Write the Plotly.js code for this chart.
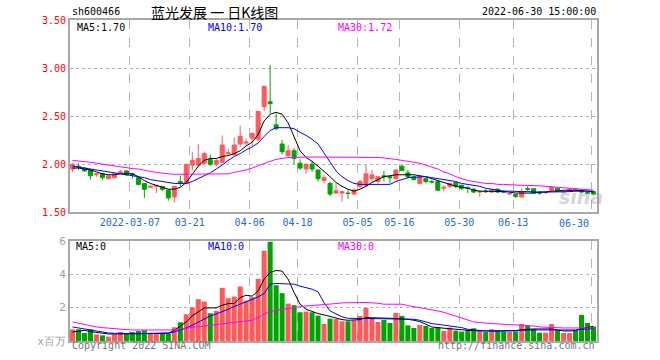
<!DOCTYPE html>
<html><head><meta charset="utf-8">
<script src="https://cdn.plot.ly/plotly-3.0.1.min.js"></script>
<style>html,body{margin:0;padding:0;background:#fff;}#chart{width:660px;height:360px;}</style>
</head><body><div id="chart"></div>
<script>
// trading-day index of each labelled date and its label
const tickIndex = [10, 20, 30, 38, 48, 55, 65, 74, 87];
const tickLabels = ['2022-03-07','03-21','04-06','04-18','05-05','05-16','05-30','06-13','06-30'];

const openP = [1.95,1.98,1.96,1.94,1.89,1.90,1.85,1.86,1.91,1.93,
  1.90,1.86,1.80,1.76,1.77,1.77,1.73,1.66,1.82,1.80,
  1.99,1.99,2.01,2.05,2.00,2.02,2.11,2.10,2.21,2.22,
  2.27,2.26,2.60,2.65,2.41,2.21,2.09,2.14,2.01,1.95,
  2.00,1.94,1.83,1.80,1.70,1.70,1.70,1.69,1.77,1.78,
  1.85,1.82,1.88,1.87,1.85,1.98,1.91,1.87,1.80,1.85,
  1.82,1.82,1.75,1.77,1.81,1.78,1.755,1.74,1.71,1.72,
  1.71,1.74,1.715,1.69,1.685,1.66,1.745,1.745,1.705,1.705,
  1.73,1.75,1.71,1.72,1.74,1.73,1.705,1.715];
const highP = [2.01,2.01,1.97,1.95,1.91,1.90,1.88,1.91,1.94,1.94,
  1.91,1.87,1.80,1.78,1.78,1.77,1.74,1.77,1.88,2.00,
  2.13,2.21,2.13,2.10,2.06,2.30,2.16,2.28,2.40,2.27,
  2.33,2.55,2.81,3.03,2.53,2.25,2.20,2.17,2.05,2.00,
  2.03,1.94,1.89,1.82,1.80,1.72,1.73,1.75,1.84,1.99,
  1.94,1.88,1.93,1.88,1.94,1.99,1.94,1.88,1.88,1.86,
  1.84,1.83,1.78,1.81,1.81,1.79,1.77,1.75,1.73,1.74,
  1.74,1.75,1.73,1.71,1.69,1.75,1.77,1.75,1.72,1.72,
  1.77,1.76,1.73,1.75,1.75,1.74,1.72,1.72];
const lowP = [1.92,1.94,1.92,1.84,1.87,1.84,1.84,1.85,1.90,1.88,
  1.85,1.78,1.65,1.75,1.70,1.72,1.62,1.60,1.77,1.79,
  1.93,1.98,2.00,1.98,1.98,2.01,2.09,2.08,2.18,2.19,
  2.19,2.24,2.55,2.53,2.35,2.10,2.08,2.00,1.94,1.90,
  1.92,1.82,1.80,1.67,1.69,1.61,1.64,1.68,1.75,1.77,
  1.82,1.80,1.82,1.80,1.84,1.93,1.85,1.83,1.79,1.80,
  1.80,1.72,1.72,1.75,1.75,1.73,1.70,1.70,1.66,1.70,
  1.70,1.70,1.70,1.68,1.65,1.65,1.72,1.69,1.68,1.69,
  1.72,1.71,1.70,1.71,1.71,1.70,1.69,1.68];
const closeP = [2.00,1.97,1.93,1.88,1.90,1.86,1.88,1.90,1.92,1.89,
  1.89,1.79,1.74,1.77,1.78,1.74,1.65,1.77,1.81,2.00,
  2.04,2.06,2.11,2.00,2.04,2.20,2.12,2.20,2.29,2.23,
  2.32,2.55,2.81,2.63,2.37,2.13,2.14,2.06,1.96,2.00,
  1.95,1.85,1.86,1.69,1.725,1.715,1.695,1.73,1.82,1.90,
  1.89,1.87,1.87,1.86,1.94,1.935,1.87,1.84,1.87,1.82,
  1.815,1.73,1.76,1.80,1.77,1.75,1.75,1.71,1.715,1.715,
  1.73,1.71,1.71,1.695,1.665,1.71,1.74,1.70,1.70,1.71,
  1.76,1.72,1.715,1.74,1.72,1.71,1.70,1.69];

const ma5 = [1.96,1.96,1.95,1.94,1.92,1.90,1.89,1.89,1.90,1.90,
  1.90,1.87,1.83,1.80,1.78,1.76,1.74,1.74,1.76,1.81,
  1.90,1.98,2.04,2.06,2.06,2.08,2.09,2.11,2.14,2.19,
  2.23,2.31,2.45,2.52,2.54,2.52,2.43,2.28,2.14,2.07,
  2.03,1.98,1.93,1.87,1.81,1.77,1.74,1.72,1.74,1.77,
  1.81,1.84,1.87,1.88,1.89,1.89,1.89,1.89,1.88,1.87,
  1.85,1.83,1.81,1.79,1.77,1.76,1.75,1.73,1.72,1.72,
  1.72,1.72,1.715,1.71,1.70,1.70,1.70,1.70,1.71,1.71,
  1.72,1.72,1.73,1.73,1.73,1.725,1.72,1.71];
const ma10 = [1.98,1.97,1.96,1.95,1.94,1.93,1.92,1.91,1.90,1.895,
  1.88,1.87,1.86,1.84,1.83,1.82,1.81,1.80,1.80,1.80,
  1.82,1.85,1.88,1.91,1.95,1.99,2.04,2.08,2.11,2.15,
  2.18,2.22,2.29,2.35,2.38,2.38,2.38,2.37,2.33,2.30,
  2.26,2.21,2.12,2.02,1.93,1.87,1.83,1.80,1.79,1.79,
  1.79,1.79,1.79,1.79,1.82,1.84,1.86,1.865,1.87,1.87,
  1.86,1.85,1.84,1.83,1.82,1.80,1.79,1.78,1.77,1.75,
  1.74,1.73,1.72,1.72,1.715,1.715,1.715,1.71,1.71,1.71,
  1.71,1.71,1.71,1.715,1.72,1.72,1.72,1.72];
const ma30 = [2.04,2.035,2.03,2.02,2.01,2.00,1.99,1.98,1.975,1.965,
  1.955,1.95,1.935,1.925,1.915,1.905,1.90,1.895,1.895,1.895,
  1.895,1.895,1.895,1.895,1.895,1.895,1.90,1.915,1.925,1.94,
  1.96,1.985,2.01,2.03,2.05,2.06,2.07,2.07,2.075,2.075,
  2.075,2.075,2.075,2.075,2.075,2.075,2.075,2.075,2.075,2.075,
  2.075,2.07,2.065,2.06,2.05,2.04,2.03,2.02,2.01,1.99,
  1.97,1.95,1.92,1.90,1.87,1.85,1.83,1.82,1.81,1.80,
  1.80,1.79,1.79,1.785,1.785,1.78,1.78,1.78,1.775,1.77,
  1.765,1.76,1.755,1.75,1.745,1.74,1.735,1.73];

const volume = [0.70,0.70,0.48,0.70,0.40,0.34,0.26,0.40,0.54,0.46,
  0.54,0.60,0.64,0.46,0.46,0.46,0.46,0.82,1.12,1.60,
  2.02,2.50,2.36,1.66,1.80,3.18,2.56,2.66,3.26,2.42,
  2.62,3.72,5.40,5.94,3.34,2.86,2.24,2.14,1.72,1.76,
  1.72,1.52,1.02,1.34,1.32,1.18,1.18,1.24,1.50,1.98,
  1.38,1.14,1.26,1.08,1.68,1.50,0.94,0.78,0.96,0.90,
  0.78,0.82,0.60,0.80,0.62,0.56,0.68,0.76,0.60,0.54,
  0.70,0.64,0.58,0.56,0.58,1.02,0.92,0.72,0.50,0.50,
  1.02,0.64,0.48,0.48,0.62,1.56,1.08,0.86];
const vma5 = [0.54,0.60,0.64,0.56,0.50,0.46,0.42,0.42,0.42,0.42,
  0.42,0.42,0.44,0.44,0.44,0.44,0.46,0.64,0.90,1.14,
  1.50,1.76,1.98,1.98,1.98,2.14,2.24,2.24,2.60,2.74,
  2.68,3.00,3.70,4.10,4.22,4.18,3.70,2.90,2.20,1.90,
  1.76,1.64,1.56,1.46,1.40,1.28,1.24,1.24,1.28,1.40,
  1.40,1.40,1.40,1.36,1.34,1.34,1.30,1.24,1.16,1.00,
  0.84,0.80,0.76,0.74,0.70,0.66,0.64,0.62,0.60,0.60,
  0.60,0.60,0.60,0.60,0.62,0.68,0.72,0.72,0.72,0.72,
  0.72,0.66,0.60,0.60,0.62,0.74,0.82,0.88];
const vma10 = [0.84,0.78,0.72,0.66,0.60,0.52,0.48,0.46,0.44,0.44,
  0.44,0.44,0.44,0.44,0.44,0.44,0.48,0.54,0.64,0.78,
  0.94,1.14,1.34,1.50,1.62,1.74,1.90,2.06,2.20,2.34,
  2.48,2.64,2.84,3.40,3.44,3.44,3.44,3.40,3.28,3.20,
  3.10,2.94,2.30,1.80,1.60,1.45,1.36,1.34,1.34,1.34,
  1.34,1.34,1.34,1.34,1.34,1.34,1.34,1.30,1.24,1.14,
  1.04,1.00,0.96,0.90,0.86,0.80,0.70,0.66,0.62,0.60,
  0.60,0.60,0.60,0.60,0.62,0.64,0.64,0.66,0.66,0.66,
  0.66,0.64,0.64,0.64,0.66,0.70,0.72,0.74];
const vma30 = [1.14,1.06,0.98,0.92,0.84,0.80,0.76,0.74,0.70,0.68,
  0.66,0.66,0.66,0.66,0.66,0.66,0.66,0.66,0.72,0.78,
  0.82,0.86,0.90,0.94,0.98,1.00,1.04,1.10,1.14,1.20,
  1.24,1.40,1.60,1.78,1.84,1.90,1.96,2.02,2.06,2.10,
  2.12,2.14,2.18,2.20,2.24,2.28,2.30,2.30,2.30,2.30,
  2.30,2.26,2.20,2.20,2.20,2.20,2.12,2.06,2.00,1.96,
  1.88,1.80,1.72,1.60,1.46,1.34,1.22,1.14,1.10,1.06,
  1.04,1.02,1.00,0.98,0.96,0.94,0.94,0.90,0.84,0.82,
  0.78,0.78,0.78,0.78,0.78,0.78,0.78,0.78];

const UP = '#ff5a5a', DOWN = '#00a300';
const idx = closeP.map((_, i) => i);
const volColors = closeP.map((c, i) => c >= openP[i] ? UP : DOWN);
const gridVals = tickIndex.map(i => i - 0.42);
const MONO = 'DejaVu Sans Mono, monospace';

const line = (y, color, xa, ya) => ({type:'scatter', mode:'lines', x:idx, y:y, xaxis:xa, yaxis:ya,
  line:{color:color, width:1}, hoverinfo:'skip', showlegend:false});

const traces = [
  {type:'candlestick', x:idx, open:openP, high:highP, low:lowP, close:closeP, xaxis:'x', yaxis:'y',
   increasing:{line:{color:UP, width:1}, fillcolor:UP},
   decreasing:{line:{color:DOWN, width:1}, fillcolor:DOWN},
   whiskerwidth:0, showlegend:false, hoverinfo:'skip'},
  line(ma5, '#000000', 'x', 'y'),
  line(ma10, '#0000ff', 'x', 'y'),
  line(ma30, '#ff00ff', 'x', 'y'),
  {type:'bar', x:idx, y:volume, xaxis:'x2', yaxis:'y2', marker:{color:volColors, line:{width:0}},
   showlegend:false, hoverinfo:'skip'},
  line(vma5, '#000000', 'x2', 'y2'),
  line(vma10, '#0000ff', 'x2', 'y2'),
  line(vma30, '#ff00ff', 'x2', 'y2')
];

const frame = '#a8a8a8', grid = '#b4b4b4';
const xbase = {range:[-0.42, idx.length - 0.42], tickmode:'array', tickvals:gridVals,
  showgrid:true, gridcolor:grid, griddash:'dash', gridwidth:1, zeroline:false,
  showline:true, linecolor:frame, linewidth:2, mirror:true, ticks:'', fixedrange:true};

const layout = {
  width:660, height:360, paper_bgcolor:'#fff', plot_bgcolor:'#fff',
  margin:{l:70, r:63, t:20, b:19},
  bargap:0.16, boxgap:0.05,
  xaxis: Object.assign({}, xbase, {anchor:'y', rangeslider:{visible:false},
    ticktext: tickLabels.slice(0, -1).concat(['']),
    tickfont:{family:MONO, size:10, color:'#1f6bd0'}}),
  yaxis: {domain:[0.401, 1], range:[1.5, 3.5], tickvals:[1.5,2.0,2.5,3.0,3.5], tickformat:'.2f',
    tickfont:{family:MONO, size:10, color:'#ff0000'}, showgrid:true, gridcolor:grid, griddash:'dot',
    zeroline:false, showline:true, linecolor:frame, linewidth:2, mirror:true, ticks:'', fixedrange:true},
  xaxis2: Object.assign({}, xbase, {anchor:'y2', showticklabels:false}),
  yaxis2: {domain:[0, 0.3125], range:[0, 6], tickvals:[0,2,4,6], ticktext:['x百万','2','4','6'],
    tickfont:{family:MONO, size:11, color:'#a0a0a0'}, showgrid:true, gridcolor:grid, griddash:'dot',
    zeroline:false, showline:true, linecolor:frame, linewidth:2, mirror:true, ticks:'', fixedrange:true},
  annotations:[
    {xref:'paper', yref:'paper', x:0, y:1.025, xanchor:'left', yanchor:'middle', showarrow:false,
     text:'sh600466', font:{family:MONO, size:10, color:'#000'}},
    {xref:'paper', yref:'paper', x:0.274, y:1.025, xanchor:'center', yanchor:'middle', showarrow:false,
     text:'蓝光发展 一 日K线图', font:{family:'Noto Sans CJK SC', size:14, color:'#000'}},
    {xref:'paper', yref:'paper', x:1.002, y:1.025, xanchor:'right', yanchor:'middle', showarrow:false,
     text:'2022-06-30 15:00:00', font:{family:MONO, size:10, color:'#000'}},
    {xref:'paper', yref:'paper', x:0.0095, y:0.978, xanchor:'left', yanchor:'middle', showarrow:false,
     text:'MA5:1.70', font:{family:MONO, size:10, color:'#000'}},
    {xref:'paper', yref:'paper', x:0.258, y:0.978, xanchor:'left', yanchor:'middle', showarrow:false,
     text:'MA10:1.70', font:{family:MONO, size:10, color:'#0000ff'}},
    {xref:'paper', yref:'paper', x:0.505, y:0.978, xanchor:'left', yanchor:'middle', showarrow:false,
     text:'MA30:1.72', font:{family:MONO, size:10, color:'#ff00ff'}},
    {xref:'paper', yref:'paper', x:0.0075, y:0.293, xanchor:'left', yanchor:'middle', showarrow:false,
     text:'MA5:0', font:{family:MONO, size:10, color:'#000'}},
    {xref:'paper', yref:'paper', x:0.258, y:0.293, xanchor:'left', yanchor:'middle', showarrow:false,
     text:'MA10:0', font:{family:MONO, size:10, color:'#0000ff'}},
    {xref:'paper', yref:'paper', x:0.505, y:0.293, xanchor:'left', yanchor:'middle', showarrow:false,
     text:'MA30:0', font:{family:MONO, size:10, color:'#ff00ff'}},
    {xref:'x', yref:'paper', x:gridVals[gridVals.length-1], y:0.366, xanchor:'right', yanchor:'middle', showarrow:false,
     text:tickLabels[tickLabels.length-1], font:{family:MONO, size:10, color:'#1f6bd0'}},
    {xref:'paper', yref:'paper', x:0, y:-0.013, xanchor:'left', yanchor:'middle', showarrow:false,
     text:'Copyright 2022 SINA.COM', font:{family:MONO, size:10, color:'#777'}},
    {xref:'paper', yref:'paper', x:1, y:-0.013, xanchor:'right', yanchor:'middle', showarrow:false,
     text:'http://finance.sina.com.cn', font:{family:MONO, size:10, color:'#777'}},
    {xref:'paper', yref:'paper', x:0.97, y:0.45, xanchor:'center', yanchor:'middle', showarrow:false,
     text:'<b><i>sina</i></b>', opacity:0.35, font:{family:'DejaVu Sans', size:19, color:'#888'}}
  ]
};

Plotly.newPlot('chart', traces, layout, {displayModeBar:false, staticPlot:true});
</script>
</body></html>
